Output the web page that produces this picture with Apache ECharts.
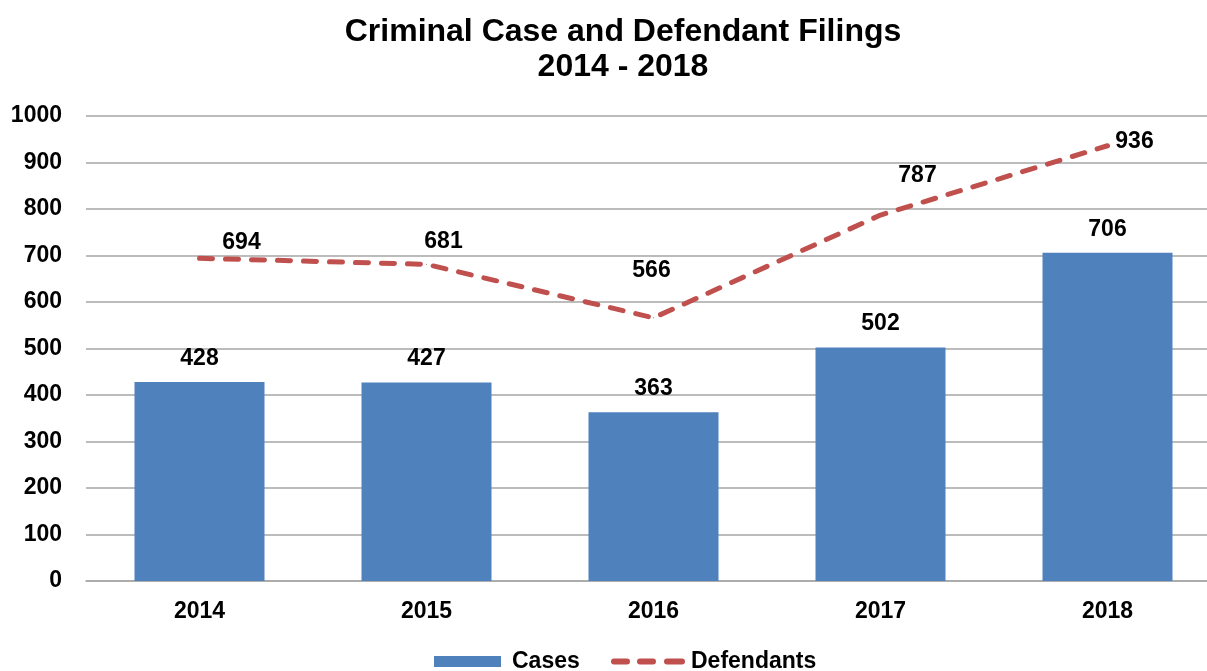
<!DOCTYPE html>
<html>
<head>
<meta charset="utf-8">
<script src="https://cdn.jsdelivr.net/npm/echarts@6/dist/echarts.min.js"></script>
<style>
html,body{margin:0;padding:0;background:#fff;overflow:hidden;}
#chart{width:1246px;height:671px;}
</style>
</head>
<body>
<div id="chart"></div>
<script>
const categories = ['2014', '2015', '2016', '2017', '2018'];
const casesValues = [428, 427, 363, 502, 706];
const defendantValues = [694, 681, 566, 787, 936];
const yTicks = [0, 100, 200, 300, 400, 500, 600, 700, 800, 900, 1000];

// label offsets (styling only) for the line's value labels
const lineLabelOffsets = [[42, 1], [17, -6], [-2, -30], [37, -22], [27, 13]];

const FONT = '"Liberation Sans", Arial, sans-serif';
const RED = '#c0504d';
const BLUE = '#4f81bd';
const chart = echarts.init(document.getElementById('chart'), null, {renderer: 'canvas'});

const dashIcon = 'path://M3,0 H16 A3,3 0 0 1 16,6 H3 A3,3 0 0 1 3,0 Z ' +
                 'M29,0 H42 A3,3 0 0 1 42,6 H29 A3,3 0 0 1 29,0 Z ' +
                 'M56,0 H71 A3,3 0 0 1 71,6 H56 A3,3 0 0 1 56,0 Z';

chart.setOption({
  animation: false,
  backgroundColor: '#ffffff',
  title: {
    text: 'Criminal Case and Defendant Filings\n2014 - 2018',
    left: 'center',
    top: 10,
    textStyle: {fontFamily: FONT, fontWeight: 'bold', fontSize: 32, lineHeight: 35, color: '#000'}
  },
  legend: [
    {
      left: 434,
      top: 650,
      padding: 0,
      itemWidth: 67,
      itemHeight: 11,
      icon: 'rect',
      textStyle: {fontFamily: FONT, fontWeight: 'bold', fontSize: 23, color: '#000', padding: [0, 0, 0, 6]},
      data: ['Cases']
    },
    {
      left: 611,
      top: 650,
      padding: 0,
      itemWidth: 74,
      itemHeight: 6,
      textStyle: {fontFamily: FONT, fontWeight: 'bold', fontSize: 23, color: '#000', padding: [0, 0, 0, 1]},
      data: [{name: 'Defendants', icon: dashIcon, itemStyle: {color: RED}}]
    }
  ],
  grid: {left: 86, top: 116, width: 1135, height: 465, containLabel: false},
  xAxis: {
    type: 'category',
    data: categories,
    axisLine: {lineStyle: {color: '#a6a6a6', width: 1.5}},
    axisTick: {show: false},
    axisLabel: {fontFamily: FONT, fontWeight: 'bold', fontSize: 23, color: '#000', margin: 19}
  },
  yAxis: {
    type: 'value',
    min: yTicks[0],
    max: yTicks[yTicks.length - 1],
    interval: yTicks[1] - yTicks[0],
    axisLine: {show: false},
    axisTick: {show: false},
    splitLine: {lineStyle: {color: '#a6a6a6', width: 1.5}},
    axisLabel: {fontFamily: FONT, fontWeight: 'bold', fontSize: 23, color: '#000', margin: 24,
                formatter: v => String(v)}
  },
  series: [
    {
      name: 'Cases',
      type: 'bar',
      data: casesValues,
      barWidth: 130,
      itemStyle: {color: BLUE},
      label: {show: true, position: 'top', distance: 12, fontFamily: FONT, fontWeight: 'bold', fontSize: 23, color: '#000'}
    },
    {
      name: 'Defendants',
      type: 'line',
      data: defendantValues.map((v, i) => ({
        value: v,
        label: {offset: lineLabelOffsets[i]}
      })),
      symbol: 'circle',
      symbolSize: 1,
      showSymbol: true,
      itemStyle: {color: RED},
      lineStyle: {color: RED, width: 5, type: [13, 13], cap: 'round'},
      label: {show: true, position: 'top', distance: 5, fontFamily: FONT, fontWeight: 'bold', fontSize: 23, color: '#000'}
    }
  ]
});
</script>
</body>
</html>
